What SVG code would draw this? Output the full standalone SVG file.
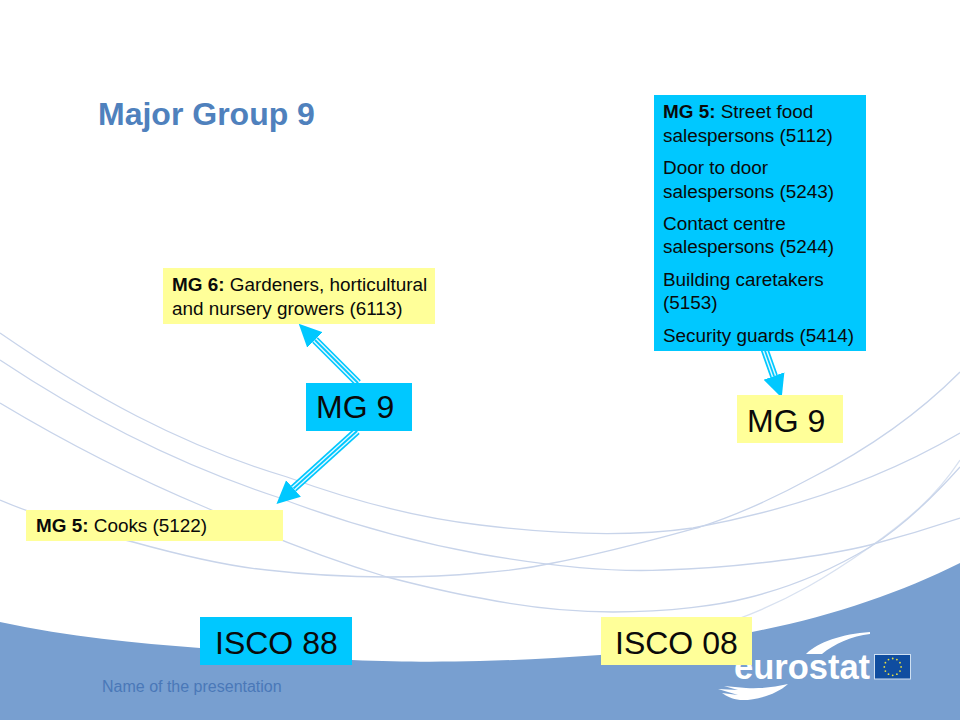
<svg xmlns="http://www.w3.org/2000/svg" width="960" height="720" viewBox="0 0 960 720">
<style>
text{font-family:"Liberation Sans",Arial,sans-serif;fill:#0a0a0a}
.big{font-size:32px}
.small{font-size:18.9px}
.b{font-weight:bold}
.cy{fill:#00c8ff}
.ye{fill:#ffff99}
.curve{fill:none;stroke:#c8d4ea;stroke-width:1.3}
.shaft{fill:none;stroke:#00c8ff;stroke-width:8;marker-end:url(#head)}
.core{fill:none;stroke:#e4f8ff;stroke-width:4.6}
.mid{fill:none;stroke:#00c8ff;stroke-width:1.8}
</style>
<defs>
<marker id="head" markerUnits="userSpaceOnUse" markerWidth="24" markerHeight="24" refX="0" refY="11" orient="auto" viewBox="0 0 24 22">
<path d="M0,0L23,11L0,22Z" fill="#00c8ff"/>
</marker>
</defs>
<rect width="960" height="720" fill="#ffffff"/>
<g id="background">
<path class="curve" d="M0,333C90,395 180,445 287,477C350,500 420,518 480,525C560,535 630,537 693,528C790,510 880,480 960,433"/>
<path class="curve" d="M0,360C90,420 180,465 277,497C350,525 420,543 480,554C560,568 620,572 663,570C740,568 830,555 870,545C900,537 930,528 960,518"/>
<path class="curve" d="M0,403C70,445 140,480 207,508C270,537 330,560 387,577C430,588 450,593 480,598C530,608 570,612 613,612C670,612 720,605 747,598C800,585 840,565 870,547C905,525 935,495 960,467"/>
<path class="curve" d="M0,500C40,517 90,532 133,542C180,555 225,566 267,570C310,575 350,577 387,577C420,577 450,576 480,573C510,571 530,568 553,563C610,552 660,538 700,527C740,514 780,495 813,477C870,448 920,412 960,372"/>
<path class="curve" d="M735,620C790,600 830,575 870,547C905,522 935,498 960,460" stroke-opacity=".7"/>
<path d="M0,622C70,637 135,643 200,648C260,655 310,660 352,660C400,662 440,662 480,661C520,660 560,658 600,655C650,650 700,642 752,632C830,617 900,593 960,563V720H0Z" fill="#789fd0"/>
</g>
<text id="footer" x="102" y="692" font-size="16" style="fill:#4a78b8">Name of the presentation</text>
<text id="title" x="98" y="125" class="b" font-size="32" style="fill:#4f81bd">Major Group 9</text>
<g id="eurostat-logo">
<path d="M806,654C818,642 842,634 870,632L870,634C852,636 834,644 822,654Z" fill="#ffffff"/>
<text x="734" y="679" class="b" font-size="34.5" style="fill:#ffffff">eurostat</text>
<path d="M788,684C775,696 752,701 740,700C732,699 726,696 722,693L738,695L718,689L738,690L724,686L746,688C760,689 775,687 788,684Z" fill="#ffffff"/>
<rect x="874.5" y="654.5" width="36" height="24.5" fill="#0f4da0" stroke="#cfe0f2"/>
<g fill="#e8e040">
<circle cx="892.7" cy="658.5" r=".9"/><circle cx="896.9" cy="659.6" r=".9"/><circle cx="900" cy="662.7" r=".9"/><circle cx="901.1" cy="666.9" r=".9"/><circle cx="900" cy="671.1" r=".9"/><circle cx="896.9" cy="674.2" r=".9"/><circle cx="892.7" cy="675.3" r=".9"/><circle cx="888.5" cy="674.2" r=".9"/><circle cx="885.4" cy="671.1" r=".9"/><circle cx="884.3" cy="666.9" r=".9"/><circle cx="885.4" cy="662.7" r=".9"/><circle cx="888.5" cy="659.6" r=".9"/>
</g>
</g>
<g id="connectors">
<path class="shaft" d="M358,383L315,340"/>
<path class="core" d="M358,383L315,340"/>
<path class="mid" d="M358,383L315,340"/>
<path class="shaft" d="M357,431L293.500,488.500"/>
<path class="core" d="M357,431L293.500,488.500"/>
<path class="mid" d="M357,431L293.500,488.500"/>
<path class="shaft" d="M763,345L774,376"/>
<path class="core" d="M763,345L774,376"/>
<path class="mid" d="M763,345L774,376"/>
</g>
<g id="node-mg6-gardeners">
<rect class="ye" x="163" y="268" width="272" height="56"/>
<text x="172" y="291" class="small"><tspan class="b">MG 6:</tspan> Gardeners, horticultural</text>
<text x="172" y="314.500" class="small">and nursery growers (6113)</text>
</g>
<g id="node-mg5-cooks">
<rect class="ye" x="26" y="510" width="257" height="31"/>
<text x="36" y="531.500" class="small"><tspan class="b">MG 5:</tspan> Cooks (5122)</text>
</g>
<g id="node-mg9-left">
<rect class="cy" x="306" y="383" width="106" height="48"/>
<text x="316" y="418" class="big">MG 9</text>
</g>
<g id="node-mg5-list">
<rect class="cy" x="654" y="95" width="212" height="256"/>
<text x="663" y="117.500" class="small"><tspan class="b">MG 5:</tspan> Street food</text>
<text x="663" y="141.500" class="small">salespersons (5112)</text>
<text x="663" y="173.500" class="small">Door to door</text>
<text x="663" y="197.500" class="small">salespersons (5243)</text>
<text x="663" y="229.500" class="small">Contact centre</text>
<text x="663" y="252.500" class="small">salespersons (5244)</text>
<text x="663" y="285.500" class="small">Building caretakers</text>
<text x="663" y="308.500" class="small">(5153)</text>
<text x="663" y="341.500" class="small">Security guards (5414)</text>
</g>
<g id="node-mg9-right">
<rect class="ye" x="737" y="395" width="106" height="48"/>
<text x="747" y="432" class="big">MG 9</text>
</g>
<g id="node-isco88">
<rect class="cy" x="200" y="617" width="152" height="48"/>
<text x="215" y="654" class="big">ISCO 88</text>
</g>
<g id="node-isco08">
<rect class="ye" x="601" y="617" width="151" height="48"/>
<text x="615" y="654" class="big">ISCO 08</text>
</g>
</svg>
